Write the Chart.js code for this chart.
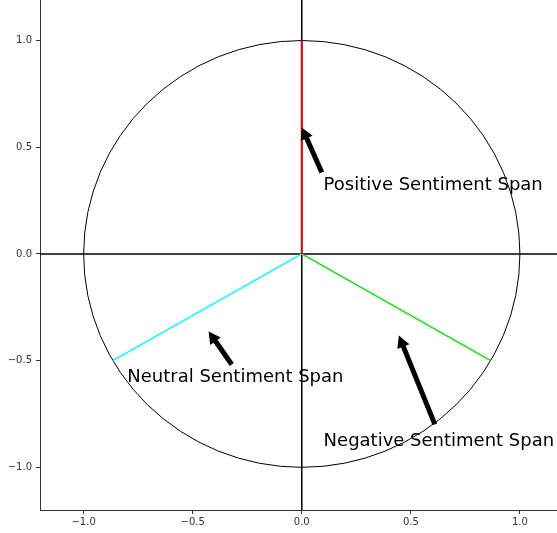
<!DOCTYPE html>
<html>
<head>
<meta charset="utf-8">
<script src="https://cdn.jsdelivr.net/npm/chart.js@4.4.1/dist/chart.umd.min.js"></script>
<style>
	body { margin: 0; background: #fff; }
	canvas { display: block; }
</style>
</head>
<body>
<canvas id="chart" width="557" height="533"></canvas>
<script>
'use strict';

// tick labels
var xTicks = [-1.0, -0.5, 0.0, 0.5, 1.0];
var yTicks = [-1.0, -0.5, 0.0, 0.5, 1.0];

// sentiment span end points (unit circle)
var spanNames = ['Positive', 'Neutral', 'Negative'];
var spanColors = ['#ff0000', '#00ffff', '#00ee00'];
var spanEndX = [0.0, -0.866, 0.866];
var spanEndY = [1.0, -0.5, -0.5];

// annotations: text position and arrow tail / tip
var labelText = ['Positive Sentiment Span', 'Neutral Sentiment Span', 'Negative Sentiment Span'];
var labelX = [0.1, -0.8, 0.1];
var labelY = [0.3, -0.6, -0.9];
var arrowTailX = [0.092, -0.321, 0.610];
var arrowTailY = [0.382, -0.518, -0.799];
var arrowTipX = [0.0, -0.427, 0.445];
var arrowTipY = [0.593, -0.363, -0.382];

var circleRadius = 1.0;

function fmt(v) {
	var s = Math.abs(v).toFixed(1);
	return v < 0 ? '\u2212' + s : s;
}

var datasets = [];

// chart.js paints the first dataset on top, so spans go first
for (var i = 0; i < spanNames.length; i++) {
	datasets.push({
		label: spanNames[i],
		data: [{x: 0, y: 0}, {x: spanEndX[i], y: spanEndY[i]}],
		borderColor: spanColors[i],
		borderWidth: i === 0 ? 2 : 1.5
	});
}

// axis lines through the origin
datasets.push({
	data: [{x: -1.2, y: 0}, {x: 1.2, y: 0}],
	borderColor: '#000', borderWidth: 1.5
});
datasets.push({
	data: [{x: 0, y: -1.2}, {x: 0, y: 1.2}],
	borderColor: '#000', borderWidth: 1.5
});

datasets.forEach(function(ds) {
	ds.showLine = true;
	ds.pointRadius = 0;
	ds.pointHoverRadius = 0;
	ds.fill = false;
});

var circlePlugin = {
	id: 'circle',
	beforeDatasetsDraw: function(chart) {
		var ctx = chart.ctx;
		var xs = chart.scales.x, ys = chart.scales.y;
		var cx = xs.getPixelForValue(0), cy = ys.getPixelForValue(0);
		var rx = xs.getPixelForValue(circleRadius) - cx;
		var ry = cy - ys.getPixelForValue(circleRadius);
		ctx.save();
		ctx.beginPath();
		ctx.rect(chart.chartArea.left, chart.chartArea.top, chart.chartArea.width, chart.chartArea.height);
		ctx.clip();
		ctx.beginPath();
		ctx.ellipse(cx, cy, rx, ry, 0, 0, Math.PI * 2);
		ctx.strokeStyle = '#000';
		ctx.lineWidth = 1;
		ctx.stroke();
		ctx.restore();
	}
};

function drawArrow(ctx, x0, y0, x1, y1) {
	var w = 2.5, hw = 6.5, hl = 12;
	var dx = x1 - x0, dy = y1 - y0;
	var len = Math.sqrt(dx * dx + dy * dy);
	var ux = dx / len, uy = dy / len;
	var px = -uy, py = ux;
	var bx = x1 - ux * hl, by = y1 - uy * hl;
	ctx.beginPath();
	ctx.moveTo(x0 + px * w, y0 + py * w);
	ctx.lineTo(bx + px * w, by + py * w);
	ctx.lineTo(bx + px * hw, by + py * hw);
	ctx.lineTo(x1, y1);
	ctx.lineTo(bx - px * hw, by - py * hw);
	ctx.lineTo(bx - px * w, by - py * w);
	ctx.lineTo(x0 - px * w, y0 - py * w);
	ctx.closePath();
	ctx.fillStyle = '#000';
	ctx.fill();
}

var annotationPlugin = {
	id: 'annotations',
	afterDatasetsDraw: function(chart) {
		var ctx = chart.ctx;
		var xs = chart.scales.x, ys = chart.scales.y;
		ctx.save();
		for (var i = 0; i < labelText.length; i++) {
			drawArrow(ctx,
				xs.getPixelForValue(arrowTailX[i]), ys.getPixelForValue(arrowTailY[i]),
				xs.getPixelForValue(arrowTipX[i]), ys.getPixelForValue(arrowTipY[i]));
			ctx.font = '18px "DejaVu Sans"';
			ctx.fillStyle = '#000';
			ctx.textAlign = 'left';
			ctx.textBaseline = 'alphabetic';
			ctx.fillText(labelText[i], xs.getPixelForValue(labelX[i]), ys.getPixelForValue(labelY[i]));
		}
		ctx.restore();
	}
};

var tickFont = {family: 'DejaVu Sans', size: 10};

new Chart(document.getElementById('chart').getContext('2d'), {
	type: 'scatter',
	data: {datasets: datasets},
	options: {
		responsive: false,
		animation: false,
		layout: {padding: 0},
		plugins: {legend: {display: false}, tooltip: {enabled: false}},
		scales: {
			x: {
				type: 'linear',
				position: 'bottom',
				min: -1.2,
				max: 1.17,
				afterBuildTicks: function(scale) {
					scale.ticks = xTicks.map(function(v) { return {value: v}; });
				},
				afterFit: function(scale) {
					scale.height = 23;
					scale.paddingLeft = 0;
					scale.paddingRight = 0;
				},
				grid: {drawOnChartArea: false, drawTicks: true, tickLength: 4, color: '#333', lineWidth: 1},
				border: {display: true, color: '#333', width: 1},
				ticks: {font: tickFont, color: '#333', padding: 2, maxRotation: 0, callback: fmt}
			},
			y: {
				type: 'linear',
				position: 'left',
				min: -1.2,
				max: 1.19,
				afterBuildTicks: function(scale) {
					scale.ticks = yTicks.map(function(v) { return {value: v}; });
				},
				afterFit: function(scale) {
					scale.width = 40;
					scale.paddingTop = 0;
					scale.paddingBottom = 0;
				},
				grid: {drawOnChartArea: false, drawTicks: true, tickLength: 4, color: '#333', lineWidth: 1},
				border: {display: true, color: '#333', width: 1},
				ticks: {font: tickFont, color: '#333', padding: 4, callback: fmt}
			}
		}
	},
	plugins: [circlePlugin, annotationPlugin]
});
</script>
</body>
</html>
